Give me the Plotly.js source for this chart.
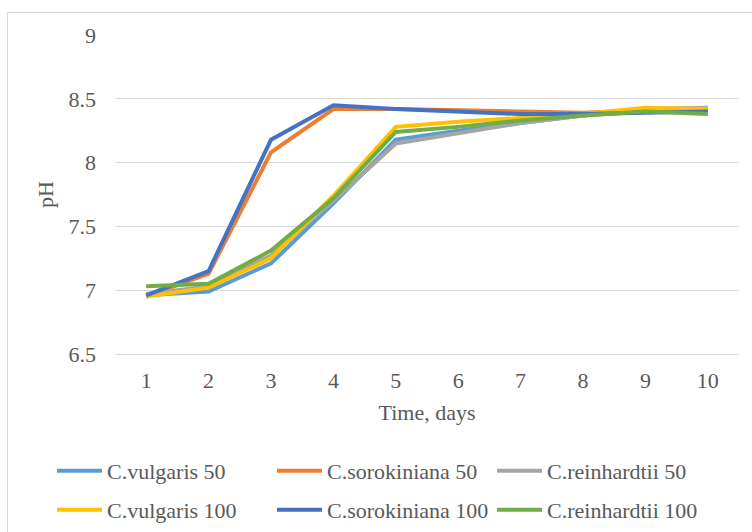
<!DOCTYPE html>
<html>
<head>
<meta charset="utf-8">
<script src="https://cdn.plot.ly/plotly-3.0.1.min.js"></script>
<style>
  html, body { margin: 0; padding: 0; background: #fff; }
  #wrap { position: relative; width: 752px; height: 532px; overflow: hidden; }
  #chart { position: absolute; left: 0; top: 0; width: 752px; height: 532px; }
  #frame { position: absolute; left: 7px; top: 12px; width: 760px; height: 540px;
           border: 1px solid #D9D9D9; box-sizing: border-box; pointer-events: none; }
</style>
</head>
<body>
<div id="wrap">
  <div id="chart"></div>
  <div id="frame"></div>
</div>
<script>
const days = [1, 2, 3, 4, 5, 6, 7, 8, 9, 10];
const seriesNames = ["C.vulgaris 50", "C.sorokiniana 50", "C.reinhardtii 50",
                     "C.vulgaris 100", "C.sorokiniana 100", "C.reinhardtii 100"];
const vulgaris50     = [6.96, 6.99, 7.21, 7.68, 8.18, 8.25, 8.31, 8.37, 8.40, 8.40];
const sorokiniana50  = [6.95, 7.13, 8.08, 8.42, 8.42, 8.41, 8.40, 8.39, 8.41, 8.42];
const reinhardtii50  = [6.97, 7.03, 7.27, 7.70, 8.15, 8.23, 8.31, 8.37, 8.42, 8.43];
const vulgaris100    = [6.95, 7.02, 7.25, 7.74, 8.28, 8.32, 8.35, 8.38, 8.43, 8.42];
const sorokiniana100 = [6.96, 7.15, 8.18, 8.45, 8.42, 8.40, 8.38, 8.38, 8.39, 8.40];
const reinhardtii100 = [7.03, 7.05, 7.31, 7.72, 8.24, 8.28, 8.33, 8.37, 8.40, 8.38];
const seriesValues = [vulgaris50, sorokiniana50, reinhardtii50, vulgaris100, sorokiniana100, reinhardtii100];
const colors = ["#5B9BD5", "#ED7D31", "#A5A5A5", "#FFC000", "#4472C4", "#70AD47"];
const yTicks = [6.5, 7, 7.5, 8, 8.5, 9];
const yTickText = ["6.5", "7", "7.5", "8", "8.5", "9"];

const font = "'Liberation Serif', serif";
const legendIds = ["legend", "legend2", "legend3", "legend4", "legend5", "legend6"];
const traces = seriesValues.map((vals, i) => ({
  x: days, y: vals, name: seriesNames[i], type: "scatter", mode: "lines",
  line: { color: colors[i], width: 4 },
  legend: legendIds[i]
}));

const layout = {
  width: 752, height: 532,
  margin: { l: 115, r: 13, t: 35, b: 178 },
  paper_bgcolor: "#fff", plot_bgcolor: "#fff",
  font: { family: font, color: "#595959", size: 22 },
  showlegend: true,
  xaxis: {
    type: "linear", range: [0.5, 10.5], tickvals: days, ticktext: days.map(String),
    showgrid: false, zeroline: false, showline: true, linecolor: "#D9D9D9", linewidth: 1,
    ticks: "", ticklabelstandoff: 7,
    tickfont: { family: font, size: 22, color: "#595959" },
    title: { text: "Time, days", font: { family: font, size: 22, color: "#595959" }, standoff: 12 }
  },
  yaxis: {
    range: [6.5, 9], tickvals: yTicks, ticktext: yTickText,
    showgrid: true, gridcolor: "#D9D9D9", gridwidth: 1, zeroline: false, showline: false,
    ticks: "", ticklabelstandoff: 18,
    tickfont: { family: font, size: 22, color: "#595959" },
    title: { text: "pH", font: { family: font, size: 22, color: "#595959" }, standoff: 8 }
  }
};

// legend placement: 3 columns x 2 rows, like the reference
const colX = [52, 272, 492];
const rowY = [471, 510];
legendIds.forEach((id, i) => {
  layout[id] = {
    orientation: "h", xref: "container", yref: "container", xanchor: "left", yanchor: "middle",
    x: colX[i % 3] / 752, y: 1 - rowY[Math.floor(i / 3)] / 532,
    font: { family: font, size: 22, color: "#595959" },
    itemwidth: 45, bgcolor: "rgba(0,0,0,0)"
  };
});

Plotly.newPlot("chart", traces, layout, { displayModeBar: false, staticPlot: true });
</script>
</body>
</html>
